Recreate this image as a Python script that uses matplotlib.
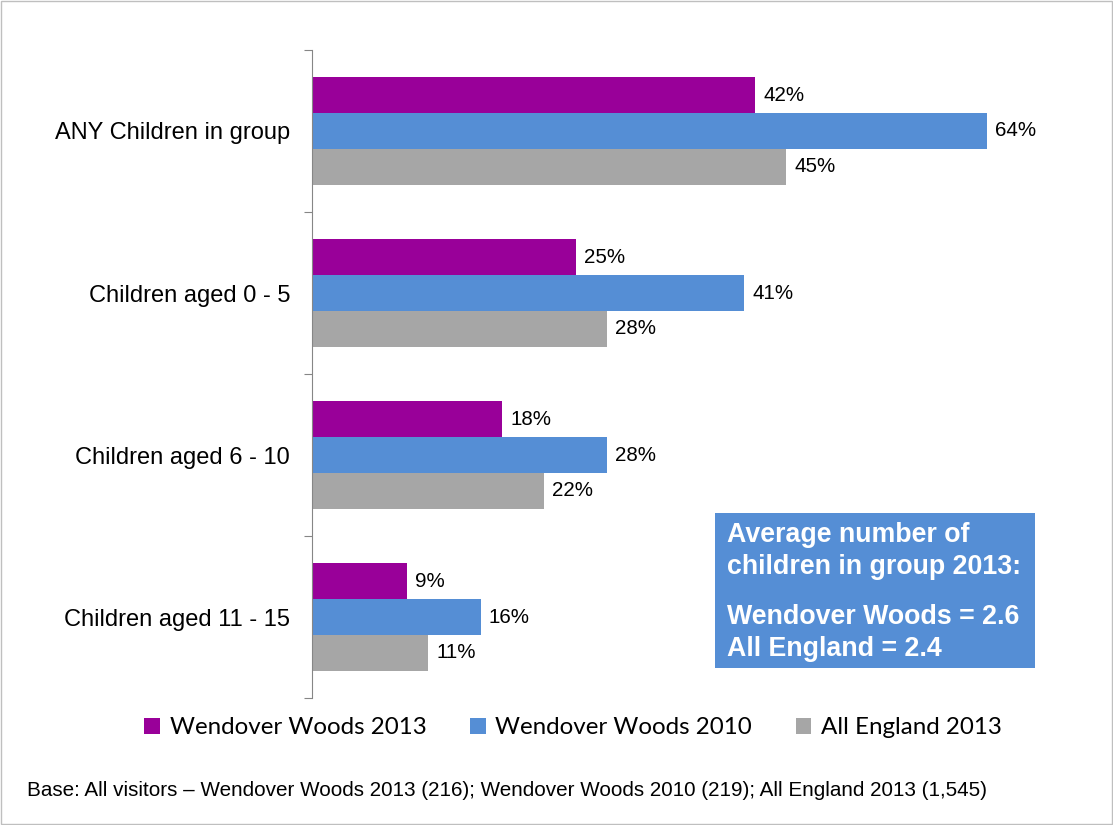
import matplotlib.pyplot as plt
from matplotlib.patches import Rectangle, Patch

categories = ["ANY Children in group", "Children aged 0 - 5", "Children aged 6 - 10", "Children aged 11 - 15"]
series_names = ["Wendover Woods 2013", "Wendover Woods 2010", "All England 2013"]
ww_2013 = [42, 25, 18, 9]
ww_2010 = [64, 41, 28, 16]
england_2013 = [45, 28, 22, 11]
colors = ["#990099", "#558ED5", "#A6A6A6"]

box_lines = ["Average number of", "children in group 2013:", "Wendover Woods = 2.6", "All England = 2.4"]
base_note = "Base: All visitors \u2013 Wendover Woods 2013 (216); Wendover Woods 2010 (219); All England 2013 (1,545)"

fig = plt.figure(figsize=(11.13, 8.25), dpi=100)
ax = fig.add_axes([0.2803, 0.1539, 0.663, 0.7855])

bar_h = 0.222
for k, (vals, col) in enumerate(zip([ww_2013, ww_2010, england_2013], colors)):
    ys = [i + (k - 1) * bar_h for i in range(len(categories))]
    bars = ax.barh(ys, vals, height=bar_h, color=col, edgecolor="none")
    for b, v in zip(bars, vals):
        ax.annotate(f"{v}%", (b.get_width(), b.get_y() + b.get_height() / 2),
                    xytext=(6, 0), textcoords="offset points", va="center", ha="left",
                    fontsize=14.8, family="Liberation Sans")

ax.set_xlim(0, 70)
ax.set_ylim(3.5, -0.5)
ax.set_xticks([])
ax.set_yticks([-0.5, 0.5, 1.5, 2.5, 3.5])
ax.set_yticklabels([])
ax.tick_params(axis="y", which="major", length=6, color="#868686", direction="out")
ax.set_yticks(range(len(categories)), minor=True)
ax.set_yticklabels(categories, minor=True, fontsize=17, family="Liberation Sans")
ax.tick_params(axis="y", which="minor", length=0, pad=15.8)
for s in ["top", "right", "bottom"]:
    ax.spines[s].set_visible(False)
ax.spines["left"].set_color("#868686")

# info box with group size averages
fig.patches.append(Rectangle((715 / 1113, 1 - 668 / 825), 320 / 1113, 155 / 825,
                             transform=fig.transFigure, facecolor="#558ED5", edgecolor="none"))
ys_txt = [535, 567, 617, 649]
for line, yy in zip(box_lines, ys_txt):
    fig.text(727 / 1113, 1 - yy / 825, line, color="white", fontsize=19.3, fontweight="bold",
             family="Liberation Sans", va="center", ha="left")

handles = [Patch(facecolor=c, edgecolor="none") for c in colors]
fig.legend(handles, series_names, loc="center", bbox_to_anchor=(573 / 1113, 1 - 728 / 825), ncol=3,
           frameon=False, prop={"family": "Lato", "size": 17.4}, handlelength=0.65, handleheight=0.65,
           handletextpad=0.4, columnspacing=1.8)

fig.text(27 / 1113, 1 - 790 / 825, base_note, fontsize=14.9, family="Liberation Sans", va="center")

# light outer frame
fig.patches.append(Rectangle((0.001, 0.001), 0.998, 0.998, transform=fig.transFigure,
                             facecolor="none", edgecolor="#BFBFBF", linewidth=1))

fig.savefig("out.png", dpi=100)
